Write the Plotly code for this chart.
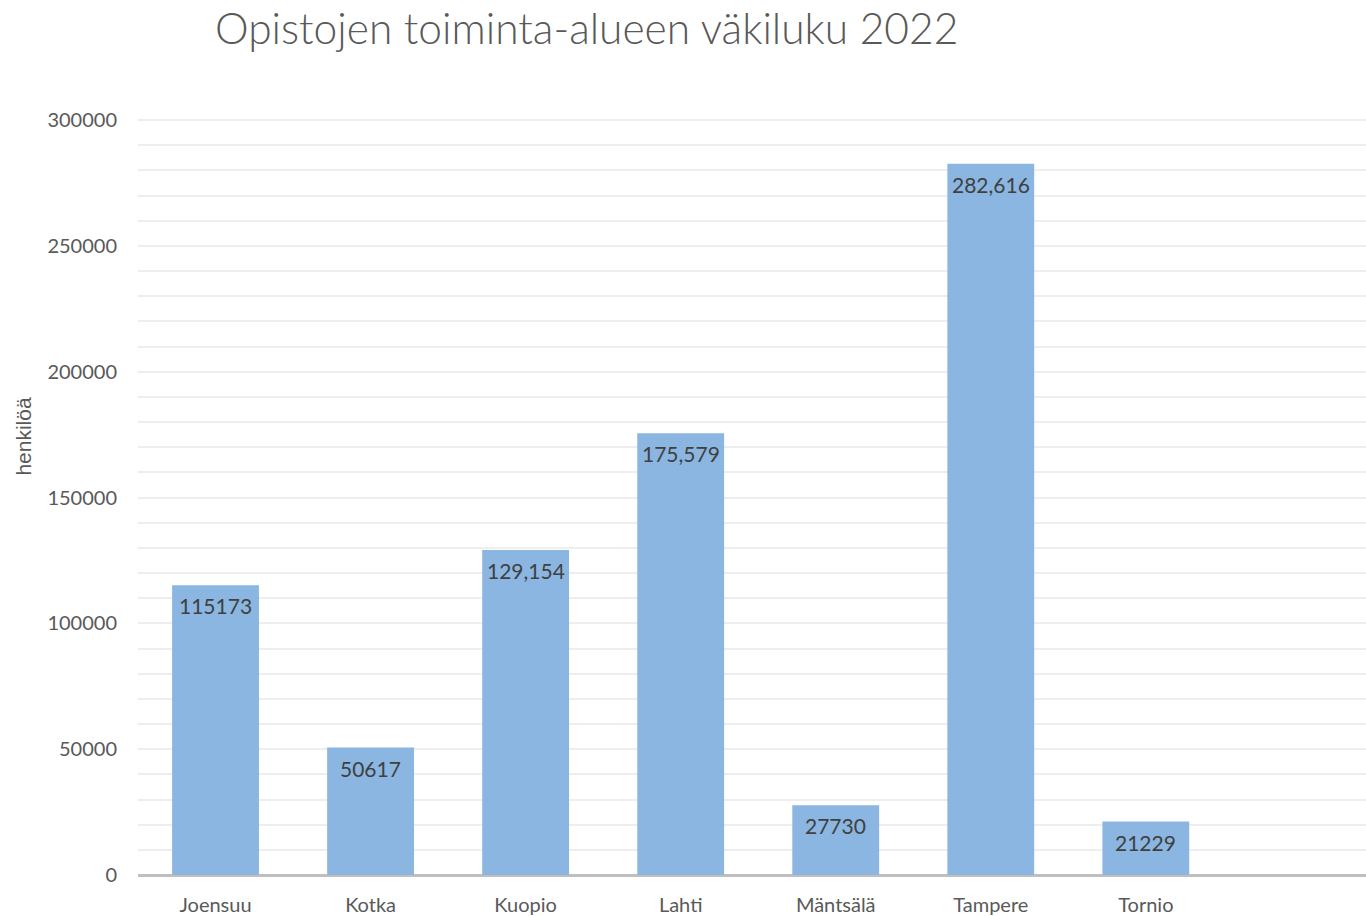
import plotly.graph_objects as go

categories = ["Joensuu", "Kotka", "Kuopio", "Lahti", "Mäntsälä", "Tampere", "Tornio"]
values = [115173, 50617, 129154, 175579, 27730, 282616, 21229]
labels = ["115173", "50617", "129,154", "175,579", "27730", "282,616", "21229"]
title_text = "Opistojen toiminta-alueen väkiluku 2022"
y_title = "henkilöä"

FONT = "Lato"
fig = go.Figure()
fig.add_trace(go.Bar(
    x=categories, y=values, width=0.56,
    marker=dict(color="#8AB6E1", line=dict(width=0)),
    text=labels, textposition="none", hoverinfo="x+y",
))
for c, v, t in zip(categories, values, labels):
    fig.add_annotation(x=c, y=v, text=t, showarrow=False, yanchor="top", yshift=-6,
                       font=dict(family=FONT, size=21, color="#404040"))

fig.add_annotation(xref="paper", yref="paper", x=-0.0936, y=0.58, text=y_title,
                   textangle=-90, showarrow=False, xanchor="center", yanchor="middle",
                   font=dict(family="Liberation Sans", size=21, color="#595959"))

fig.update_layout(
    width=1366, height=916,
    margin=dict(l=138, r=0, t=119, b=37),
    paper_bgcolor="white", plot_bgcolor="white",
    title=dict(text=title_text, x=215/1366, xanchor="left", y=1 - 29/916, yanchor="middle",
               font=dict(family=FONT, size=42.5, color="#595959", weight=300)),
    showlegend=False,
    xaxis=dict(type="category", range=[-0.5, 7.42], showgrid=False, showline=False,
               zeroline=False, ticks="", ticklabelstandoff=16,
               tickfont=dict(family=FONT, size=20, color="#595959")),
    yaxis=dict(range=[0, 300400], dtick=50000, tick0=0, tickformat="d", showgrid=True,
               gridcolor="#EEEEEE", gridwidth=2, zeroline=True, zerolinecolor="#BFBFBF",
               zerolinewidth=3, showline=False, ticks="", ticklabelstandoff=20,
               tickfont=dict(family=FONT, size=20, color="#595959"),
               minor=dict(dtick=10000, tick0=0, showgrid=True, gridcolor="#EEEEEE", gridwidth=2)),
)
fig.write_html("out.html", config={"displayModeBar": False},
               post_script="document.body.style.margin='0';")
